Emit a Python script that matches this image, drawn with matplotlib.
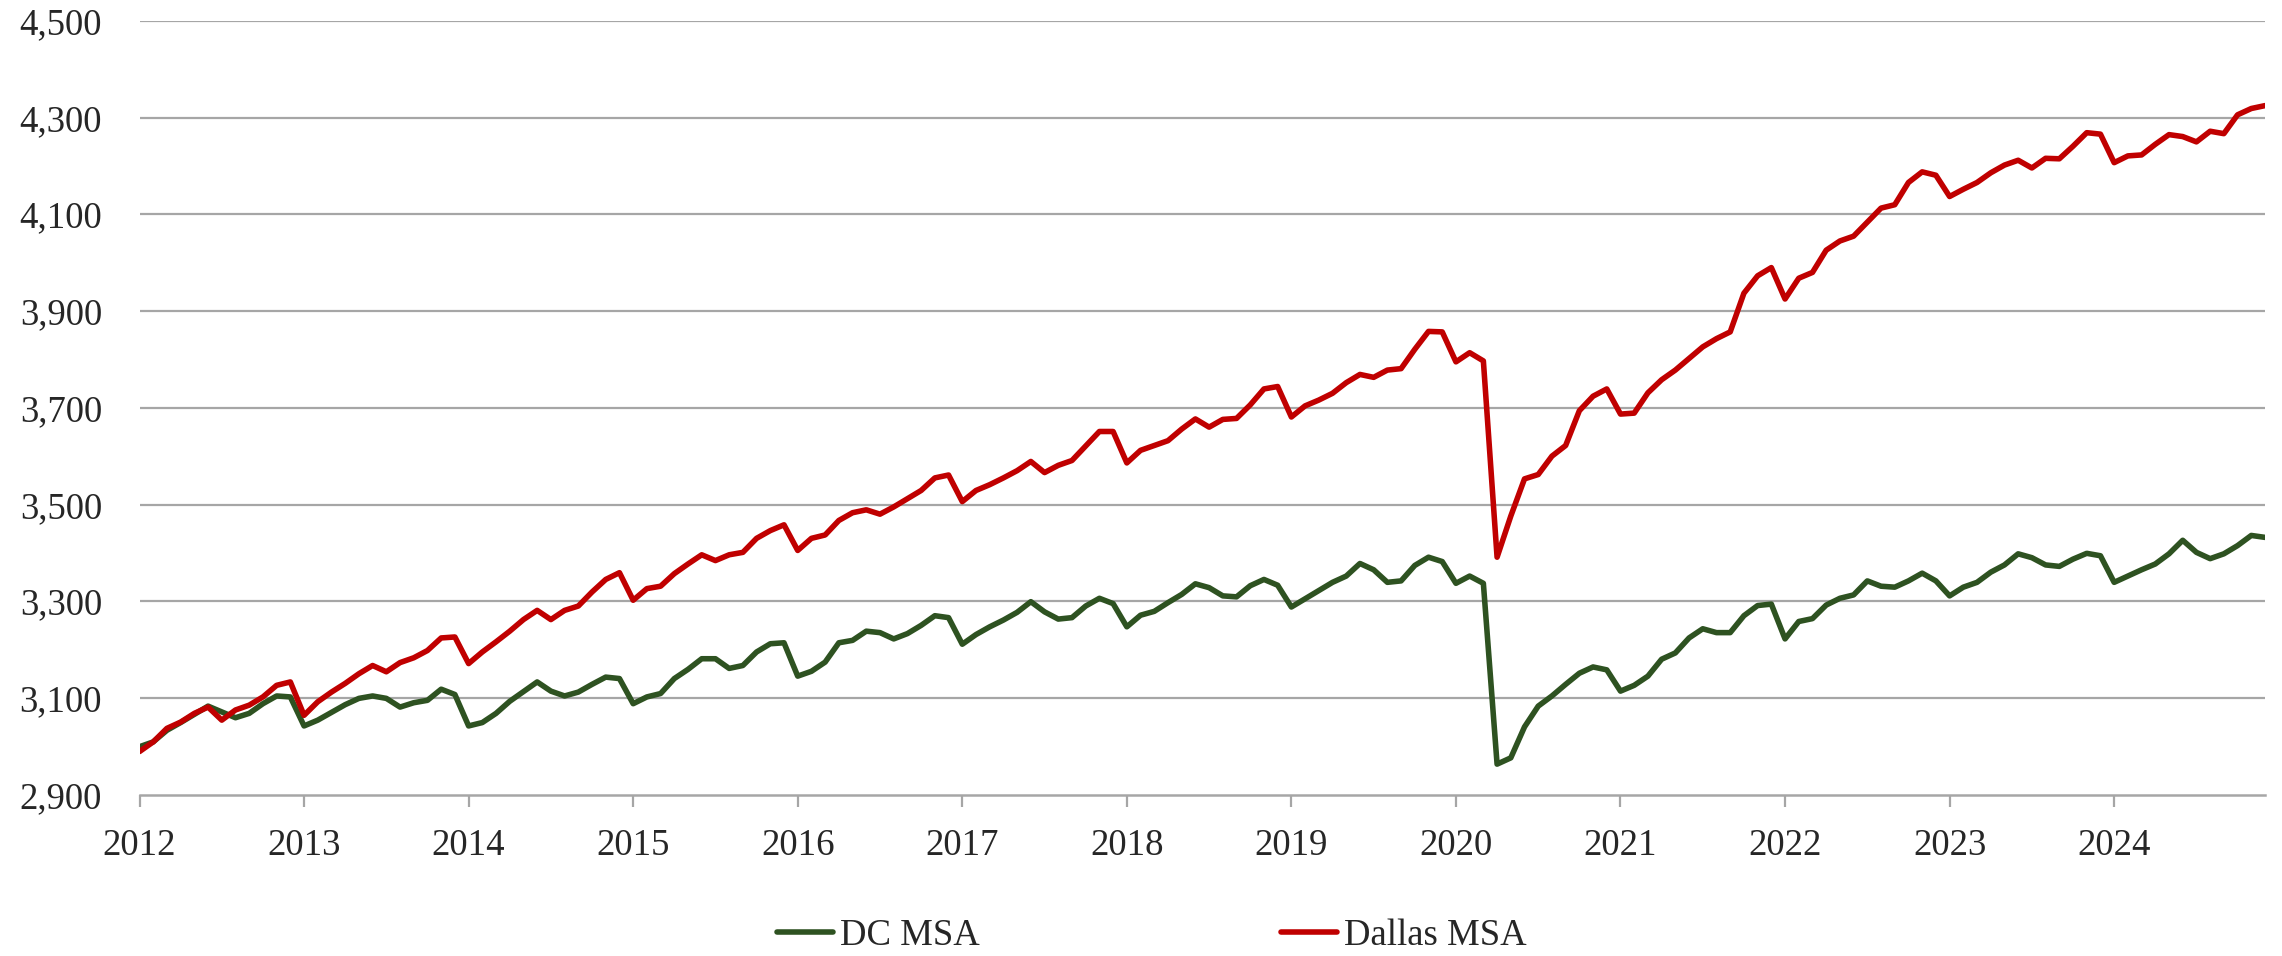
import matplotlib
matplotlib.use("Agg")
import matplotlib.pyplot as plt
import numpy as np

years = list(range(2012, 2025))

dc_msa = [
    2999, 3009, 3033, 3049, 3066, 3083, 3071, 3059, 3068, 3088, 3104, 3102,
    3042, 3054, 3070, 3086, 3099, 3104, 3099, 3081, 3090, 3095, 3118, 3107,
    3042, 3049, 3068, 3093, 3113, 3133, 3114, 3104, 3112, 3128, 3143, 3140,
    3088, 3102, 3109, 3140, 3159, 3181, 3181, 3161, 3167, 3195, 3212, 3214,
    3145, 3155, 3174, 3214, 3219, 3238, 3235, 3222, 3233, 3250, 3270, 3266,
    3211, 3231, 3247, 3261, 3277, 3299, 3278, 3263, 3266, 3290, 3306, 3295,
    3247, 3271, 3279, 3297, 3314, 3336, 3328, 3311, 3309, 3332, 3345, 3333,
    3288, 3305, 3322, 3339, 3352, 3378, 3365, 3339, 3342, 3374, 3391, 3382,
    3337, 3352, 3337, 2963, 2976, 3040, 3083, 3104, 3128, 3151, 3164, 3158,
    3114, 3126, 3145, 3180, 3193, 3224, 3243, 3235, 3235, 3270, 3291, 3294,
    3222, 3258, 3264, 3292, 3306, 3313, 3342, 3331, 3329, 3342, 3358, 3342,
    3311, 3329, 3339, 3360, 3375, 3398, 3390, 3375, 3372, 3387, 3399, 3394,
    3339, 3352, 3365, 3377, 3398, 3426, 3401, 3388, 3398, 3415, 3436, 3432,
]

dallas_msa = [
    2989, 3009, 3037, 3050, 3068, 3081, 3054, 3075, 3085, 3102, 3126, 3133,
    3064, 3092, 3112, 3130, 3150, 3167, 3154, 3173, 3183, 3198, 3224, 3226,
    3171, 3195, 3216, 3238, 3262, 3281, 3262, 3281, 3290, 3319, 3345, 3359,
    3302, 3326, 3331, 3357, 3377, 3396, 3384, 3396, 3401, 3430, 3446, 3458,
    3405, 3430, 3437, 3467, 3483, 3489, 3480, 3495, 3512, 3529, 3555, 3561,
    3506, 3529, 3541, 3555, 3570, 3589, 3566, 3581, 3591, 3621, 3651, 3651,
    3586, 3612, 3622, 3632, 3656, 3677, 3660, 3676, 3678, 3706, 3739, 3744,
    3681, 3704, 3716, 3730, 3752, 3769, 3763, 3778, 3781, 3821, 3858, 3857,
    3795, 3814, 3797, 3391, 3476, 3553, 3562, 3600, 3622, 3694, 3724, 3739,
    3687, 3689, 3731, 3758, 3778, 3802, 3826, 3843, 3857, 3937, 3973, 3990,
    3925, 3968, 3980, 4026, 4045, 4055, 4084, 4113, 4120, 4166, 4188, 4181,
    4137, 4152, 4166, 4186, 4202, 4212, 4196, 4216, 4215, 4241, 4269, 4266,
    4207, 4221, 4223, 4245, 4265, 4261, 4250, 4272, 4267, 4306, 4319, 4325,
]

series_labels = ["DC MSA", "Dallas MSA"]
y_ticks = [2900, 3100, 3300, 3500, 3700, 3900, 4100, 4300, 4500]

plt.rcParams['font.family'] = ['Liberation Serif', 'DejaVu Serif']
FS = 26.5
TXT = '#262626'
GRID = '#a6a6a6'

fig = plt.figure(figsize=(22.82, 9.56), dpi=100)
ax = fig.add_axes([139.5 / 2282, 1 - 794.6 / 956, (2265 - 139.5) / 2282, (794.6 - 21) / 956])

months = np.arange(len(dc_msa))
l1, = ax.plot(months, dc_msa, color='#2E5221', lw=4.0, solid_joinstyle='round',
              solid_capstyle='round', zorder=3)
l2, = ax.plot(months, dallas_msa, color='#C00000', lw=4.0, solid_joinstyle='round',
              solid_capstyle='round', zorder=4)

ax.set_xlim(0, len(dc_msa) - 1)
ax.set_ylim(2900, 4500)
ax.set_yticks(y_ticks)
ax.set_yticklabels([f"{v:,}" for v in y_ticks])
ax.set_xticks([12 * k for k in range(len(years))])
ax.set_xticklabels([str(y) for y in years])

for v in y_ticks[1:]:
    ax.axhline(v, color=GRID, lw=1.6, zorder=1)

for s in ['top', 'right', 'left']:
    ax.spines[s].set_visible(False)
ax.spines['bottom'].set_color(GRID)
ax.spines['bottom'].set_linewidth(1.8)
ax.spines['bottom'].set_zorder(2)

ax.tick_params(axis='y', length=0, pad=27, labelsize=FS, labelcolor=TXT)
ax.tick_params(axis='x', length=8.4, width=1.6, color=GRID, direction='out',
               pad=16, labelsize=FS, labelcolor=TXT)

fig.legend([l1, l2], series_labels, loc='center', bbox_to_anchor=(1152 / 2282, 1 - 936 / 956),
           ncol=2, frameon=False, fontsize=FS, handlelength=1.5, handletextpad=0.2,
           columnspacing=8.2, labelcolor=TXT)

fig.savefig('out.png', dpi=100, facecolor='white')
